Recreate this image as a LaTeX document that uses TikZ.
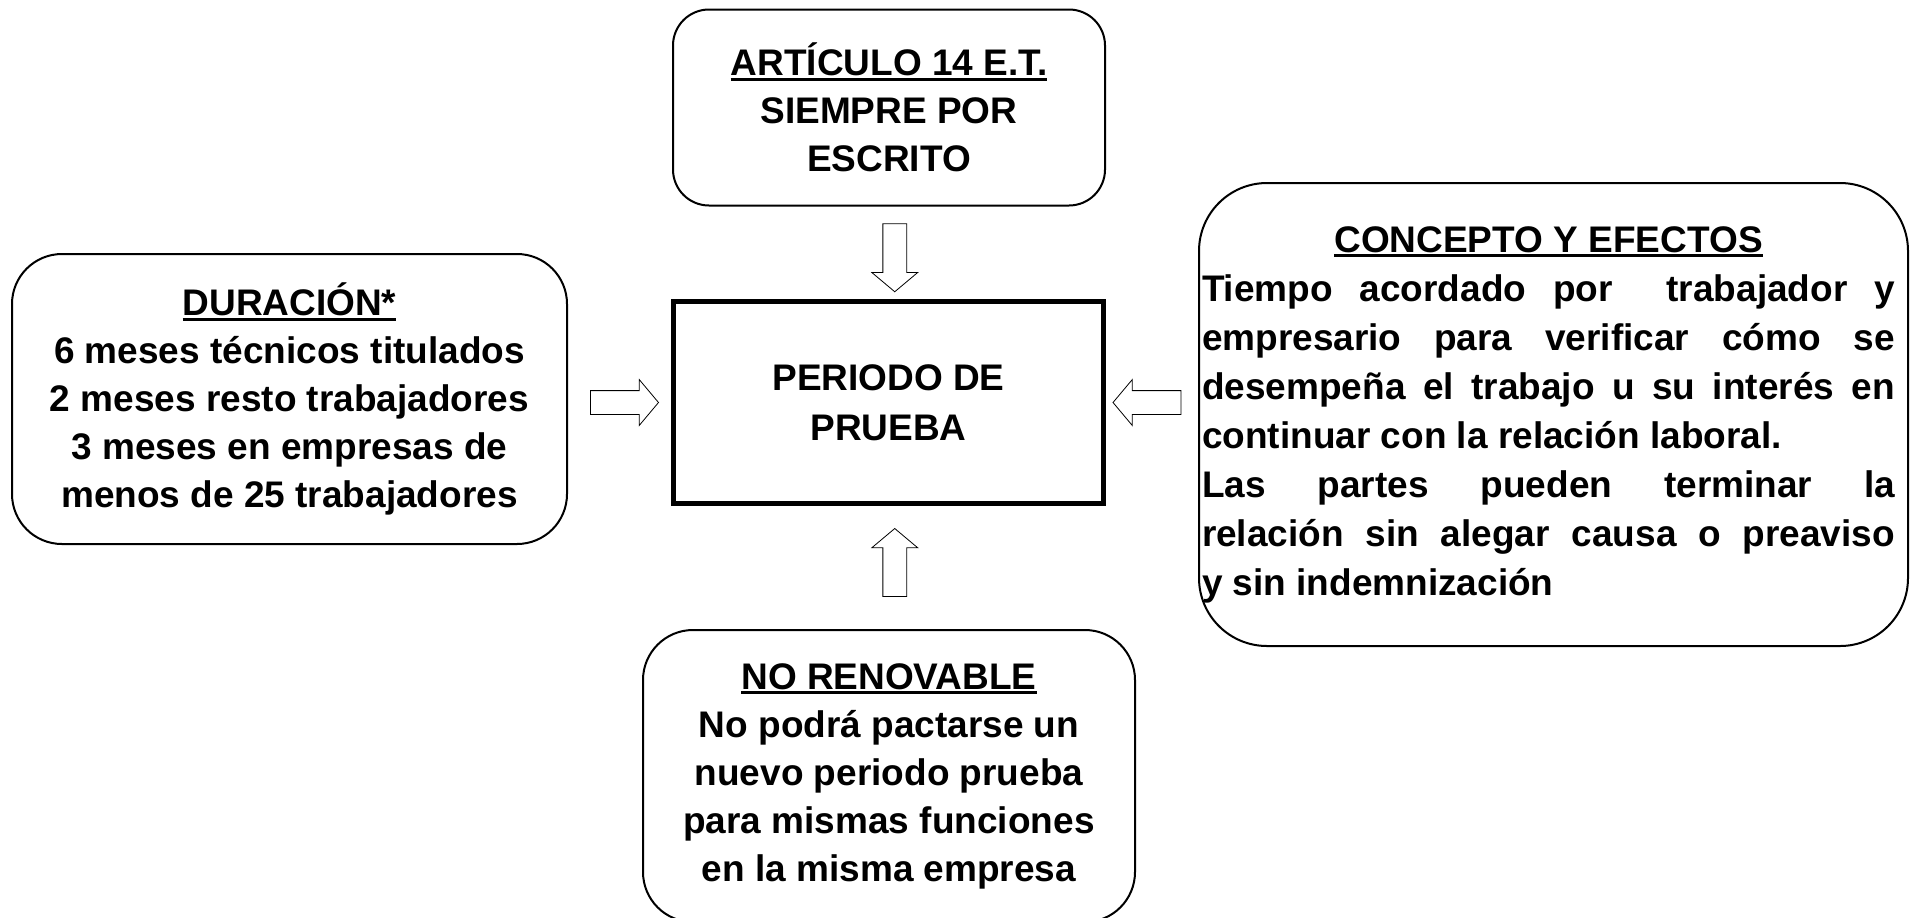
\documentclass[tikz,border=0pt]{standalone}
\usepackage{fontspec}
\setmainfont{Liberation Sans}
\usetikzlibrary{shapes.arrows,calc}

\newcommand{\subr}[1]{\setbox0\hbox{#1}\rlap{\rule[-2.6pt]{\wd0}{1.4pt}}\box0}
\newcommand{\renglon}[1]{\hbox to\hsize{\kern-2.5pt#1\kern2.5pt}}

\tikzset{
  texto/.style={font=\bfseries\fontsize{18.5}{24}\selectfont},
  caja/.style={texto, draw, line width=1pt, rounded corners=20pt, inner sep=0pt, align=center},
  centro/.style={texto, draw, line width=2.5pt, inner sep=0pt, align=center},
  flecha/.style={draw, single arrow, line width=0.4pt, inner sep=5.75pt,
    minimum height=34pt, single arrow head extend=5.5pt,
    single arrow tip angle=100, single arrow head indent=0pt}
}

\begin{document}
\begin{tikzpicture}[x=0.5pt,y=-0.5pt]
  \useasboundingbox (0,0) rectangle (1912,917);

  \node [centro, minimum width=215pt, minimum height=101pt,
    font=\bfseries\fontsize{18.5}{25}\selectfont] (per) at (888.5,402.5)
    {PERIODO DE\\PRUEBA};

  \node [caja, rounded corners=18pt, minimum width=216pt, minimum height=98pt] (art) at (889,107.5)
    {\subr{ARTÍCULO 14 E.T.}\\SIEMPRE POR\\ESCRITO};

  \node [caja, rounded corners=25pt, minimum width=277.5pt, minimum height=145pt] (dur) at (289.5,399)
    {\subr{DURACIÓN*}\\6 meses técnicos titulados\\2 meses resto trabajadores\\3 meses en empresas de\\menos de 25 trabajadores};

  \node [caja, rounded corners=34pt, align=none, text width=346.5pt,
    minimum width=354.5pt, minimum height=231.5pt,
    font=\bfseries\fontsize{18.5}{24.5}\selectfont] (con) at (1553.5,414.5)
    {\renglon{\hfil\subr{CONCEPTO Y EFECTOS}\hfil}
     \renglon{Tiempo acordado por \ trabajador y}
     \renglon{empresario para verificar cómo se}
     \renglon{desempeña el trabajo u su interés en}
     \renglon{continuar con la relación laboral.\hfil}
     \renglon{Las partes pueden terminar la}
     \renglon{relación sin alegar causa o preaviso}
     \renglon{y sin indemnización\hfil}};

  \node [caja, rounded corners=25pt, minimum width=246pt, minimum height=146pt] (nor) at (889,776)
    {\subr{NO RENOVABLE}\\No podrá pactarse un\\nuevo periodo prueba\\para mismas funciones\\en la misma empresa};

  % flechas hacia el centro
  \node [flecha, shape border rotate=270] (f1) at ([xshift=3pt]$(art.south)!0.5!(per.north)$) {};
  \node [flecha, shape border rotate=90] (f2) at ([xshift=3pt]$(per.south)!0.5!(nor.north)$) {};
  \node [flecha] (f3) at ($(per.west)!0.5!(dur.east |- per.west)$) {};
  \node [flecha, shape border rotate=180] (f4) at ($(per.east)!0.5!(con.west |- per.east)$) {};
\end{tikzpicture}
\end{document}
